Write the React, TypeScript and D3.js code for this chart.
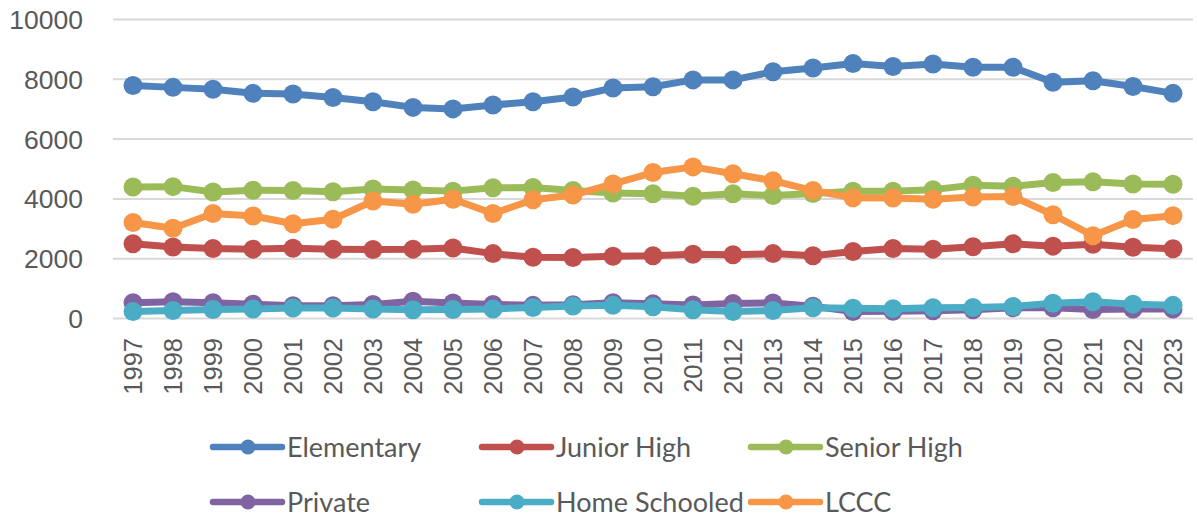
import React, { useRef, useEffect } from "react";
import * as d3 from "d3";

const years = [
  "1997", "1998", "1999", "2000", "2001", "2002", "2003", "2004", "2005",
  "2006", "2007", "2008", "2009", "2010", "2011", "2012", "2013", "2014",
  "2015", "2016", "2017", "2018", "2019", "2020", "2021", "2022", "2023",
];
const elementary = [7790, 7730, 7670, 7530, 7510, 7390, 7250, 7060, 7010, 7140, 7250, 7410, 7710, 7750, 7980, 7980, 8250, 8380, 8530, 8430, 8510, 8400, 8400, 7900, 7950, 7760, 7530];
const juniorHigh = [2500, 2390, 2340, 2320, 2350, 2320, 2310, 2320, 2360, 2170, 2050, 2040, 2080, 2100, 2150, 2130, 2170, 2100, 2240, 2340, 2320, 2400, 2500, 2420, 2480, 2380, 2330];
const seniorHigh = [4400, 4410, 4230, 4290, 4280, 4240, 4330, 4300, 4260, 4370, 4380, 4280, 4200, 4170, 4090, 4170, 4110, 4180, 4260, 4260, 4310, 4460, 4420, 4550, 4570, 4500, 4490];
const privateSchool = [530, 560, 530, 480, 430, 430, 470, 580, 520, 470, 440, 460, 530, 490, 450, 500, 520, 410, 230, 240, 260, 290, 360, 360, 300, 320, 320];
const homeSchooled = [230, 270, 300, 320, 350, 350, 320, 290, 300, 320, 370, 420, 440, 390, 290, 230, 270, 360, 340, 330, 360, 370, 400, 510, 560, 480, 440];
const lccc = [3210, 3020, 3510, 3430, 3170, 3320, 3930, 3820, 3990, 3510, 3970, 4130, 4500, 4880, 5070, 4840, 4610, 4280, 4040, 4030, 3990, 4060, 4080, 3470, 2770, 3310, 3440];
const yTicks = [0, 2000, 4000, 6000, 8000, 10000];

const seriesNames = ["Elementary", "Junior High", "Senior High", "Private", "Home Schooled", "LCCC"];
const seriesValues = [elementary, juniorHigh, seniorHigh, privateSchool, homeSchooled, lccc];
const colors = ["#4F81BD", "#C0504D", "#9BBB59", "#8064A2", "#4BACC6", "#F79646"];

const W = 1197;
const H = 518;

const App = () => {
  const svgRef = useRef<SVGSVGElement>(null);

  useEffect(() => {
    const svg = d3.select(svgRef.current);
    svg.selectAll("*").remove();

    const x = d3.scalePoint<string>().domain(years).range([113, 1193]).padding(0.5);
    const y = d3.scaleLinear().domain([0, 10000]).range([318.5, 19.5]);

    // gridlines
    svg.append("g")
      .selectAll("line")
      .data(yTicks)
      .enter()
      .append("line")
      .attr("x1", 113)
      .attr("x2", 1193)
      .attr("y1", (d) => y(d))
      .attr("y2", (d) => y(d))
      .attr("stroke", "#D9D9D9")
      .attr("stroke-width", 2);

    // y labels
    svg.append("g")
      .selectAll("text")
      .data(yTicks)
      .enter()
      .append("text")
      .attr("x", 83)
      .attr("y", (d) => y(d))
      .attr("dy", "0.36em")
      .attr("text-anchor", "end")
      .attr("font-family", "'Liberation Sans', Arial, sans-serif")
      .attr("font-size", 26.5)
      .attr("fill", "#595959")
      .text((d) => d);

    // x labels, rotated
    svg.append("g")
      .selectAll("text")
      .data(years)
      .enter()
      .append("text")
      .attr("transform", (d) => "translate(" + x(d) + ",338) rotate(-90)")
      .attr("dy", "0.36em")
      .attr("text-anchor", "end")
      .attr("font-family", "'Liberation Sans', Arial, sans-serif")
      .attr("font-size", 25.5)
      .attr("fill", "#595959")
      .text((d) => d);

    const line = d3.line<number>()
      .x((d, i) => x(years[i]) as number)
      .y((d) => y(d));

    seriesValues.forEach((vals, si) => {
      const g = svg.append("g");
      g.append("path")
        .datum(vals)
        .attr("d", line)
        .attr("fill", "none")
        .attr("stroke", colors[si])
        .attr("stroke-width", 7)
        .attr("stroke-linejoin", "round")
        .attr("stroke-linecap", "round");
      g.selectAll("circle")
        .data(vals)
        .enter()
        .append("circle")
        .attr("cx", (d, i) => x(years[i]) as number)
        .attr("cy", (d) => y(d))
        .attr("r", 9.5)
        .attr("fill", colors[si]);
    });

    // legend, 3 per row
    const legend = svg.append("g");
    seriesNames.forEach((name, i) => {
      const col = i % 3;
      const row = Math.floor(i / 3);
      const lx = 213 + col * 269;
      const ly = 447 + row * 55;
      const item = legend.append("g").attr("transform", "translate(" + lx + "," + ly + ")");
      item.append("line")
        .attr("x1", 0)
        .attr("x2", 69)
        .attr("y1", 0)
        .attr("y2", 0)
        .attr("stroke", colors[i])
        .attr("stroke-width", 6.5)
        .attr("stroke-linecap", "round");
      item.append("circle")
        .attr("cx", 35)
        .attr("cy", 0)
        .attr("r", 7.5)
        .attr("fill", colors[i]);
      item.append("text")
        .attr("x", 74)
        .attr("y", 0)
        .attr("dy", "0.36em")
        .attr("font-family", "Lato, 'Open Sans', sans-serif")
        .attr("font-size", 27)
        .attr("fill", "#595959")
        .text(name);
    });
  }, []);

  return (
    <svg
      ref={svgRef}
      width={W}
      height={H}
      style={{ position: "absolute", left: 0, top: 0, background: "#fff" }}
    ></svg>
  );
};

export default App;
